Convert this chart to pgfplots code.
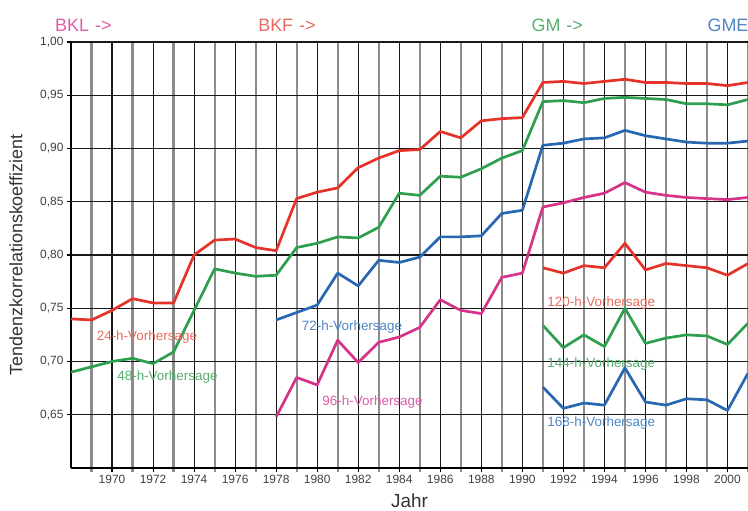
\documentclass[border=0pt]{standalone}
\usepackage{fontspec}
\setmainfont{Liberation Sans}
\usepackage{pgfplots}
\pgfplotsset{compat=1.18}

\definecolor{cRed}{HTML}{E5332A}
\definecolor{cGreen}{HTML}{2E9E4F}
\definecolor{cBlue}{HTML}{2867B2}
\definecolor{cPink}{HTML}{D6338A}
\definecolor{tRed}{HTML}{E86A5E}
\definecolor{tGreen}{HTML}{55B06E}
\definecolor{tBlue}{HTML}{4F86C6}
\definecolor{tPink}{HTML}{DD5CA6}

\begin{document}
\begin{tikzpicture}
\begin{axis}[
  scale only axis,
  width=677bp, height=426bp,
  xmin=1968, xmax=2001,
  ymin=0.60, ymax=1.00,
  axis x line*=bottom,
  axis y line*=left,
  axis line style={black, line width=1.2bp},
  clip=false,
  xtick={1970,1972,...,2000},
  minor xtick={1969,1971,...,2001},
  ytick={0.65,0.70,0.75,0.80,0.85,0.90,0.95,1.00},
  grid=both,
  major grid style={black!90, line width=1.1bp},
  minor grid style={black!45, line width=2.2bp},
  tick align=outside,
  major tick length=4bp,
  minor tick length=4bp,
  every tick/.style={black, line width=1.1bp},
  minor tick style={black!45, line width=2.2bp},
  /pgf/number format/assume math mode=true,
  xticklabel={\pgfmathprintnumber[1000 sep={}, fixed]{\tick}},
  yticklabel style={/pgf/number format/.cd, fixed, fixed zerofill, precision=2, use comma},
  ticklabel style={font=\fontsize{12}{14}\selectfont, text=black!75},
  xlabel={Jahr},
  ylabel={Tendenzkorrelationskoeffizient},
  every axis x label/.style={at={(axis description cs:0.5,0)}, yshift=-33bp, anchor=center, font=\fontsize{19}{22}\selectfont, text=black!80},
  every axis y label/.style={at={(axis description cs:0,0.5)}, xshift=-55bp, rotate=90, anchor=center, font=\fontsize{18}{22}\selectfont, text=black!80},
  no markers,
  every axis plot/.append style={line width=2.7bp, line join=round},
]

% 24-h forecast
\addplot[cRed] coordinates {
 (1968,0.740) (1969,0.739) (1970,0.748) (1971,0.759) (1972,0.755) (1973,0.755)
 (1974,0.800) (1975,0.814) (1976,0.815) (1977,0.807) (1978,0.804) (1979,0.853)
 (1980,0.859) (1981,0.863) (1982,0.882) (1983,0.891) (1984,0.898) (1985,0.899)
 (1986,0.916) (1987,0.910) (1988,0.926) (1989,0.928) (1990,0.929) (1991,0.962)
 (1992,0.963) (1993,0.961) (1994,0.963) (1995,0.965) (1996,0.962) (1997,0.962)
 (1998,0.961) (1999,0.961) (2000,0.959) (2001,0.962)};

% 48-h forecast
\addplot[cGreen] coordinates {
 (1968,0.690) (1969,0.695) (1970,0.700) (1971,0.703) (1972,0.698) (1973,0.709)
 (1974,0.748) (1975,0.787) (1976,0.783) (1977,0.780) (1978,0.781) (1979,0.807)
 (1980,0.811) (1981,0.817) (1982,0.816) (1983,0.826) (1984,0.858) (1985,0.856)
 (1986,0.874) (1987,0.873) (1988,0.881) (1989,0.891) (1990,0.898) (1991,0.944)
 (1992,0.945) (1993,0.943) (1994,0.947) (1995,0.948) (1996,0.947) (1997,0.946)
 (1998,0.942) (1999,0.942) (2000,0.941) (2001,0.946)};

% 72-h forecast
\addplot[cBlue] coordinates {
 (1978,0.739) (1979,0.746) (1980,0.753) (1981,0.783) (1982,0.771) (1983,0.795)
 (1984,0.793) (1985,0.798) (1986,0.817) (1987,0.817) (1988,0.818) (1989,0.839)
 (1990,0.842) (1991,0.903) (1992,0.905) (1993,0.909) (1994,0.910) (1995,0.917)
 (1996,0.912) (1997,0.909) (1998,0.906) (1999,0.905) (2000,0.905) (2001,0.907)};

% 96-h forecast
\addplot[cPink] coordinates {
 (1978,0.648) (1979,0.685) (1980,0.678) (1981,0.720) (1982,0.699) (1983,0.718)
 (1984,0.723) (1985,0.732) (1986,0.758) (1987,0.748) (1988,0.745) (1989,0.779)
 (1990,0.783) (1991,0.845) (1992,0.849) (1993,0.854) (1994,0.858) (1995,0.868)
 (1996,0.859) (1997,0.856) (1998,0.854) (1999,0.853) (2000,0.852) (2001,0.854)};

% 120-h forecast
\addplot[cRed] coordinates {
 (1991,0.788) (1992,0.783) (1993,0.790) (1994,0.788) (1995,0.811) (1996,0.786)
 (1997,0.792) (1998,0.790) (1999,0.788) (2000,0.781) (2001,0.792)};

% 144-h forecast
\addplot[cGreen] coordinates {
 (1991,0.734) (1992,0.713) (1993,0.725) (1994,0.714) (1995,0.750) (1996,0.717)
 (1997,0.722) (1998,0.725) (1999,0.724) (2000,0.716) (2001,0.736)};

% 168-h forecast
\addplot[cBlue] coordinates {
 (1991,0.676) (1992,0.656) (1993,0.661) (1994,0.659) (1995,0.694) (1996,0.662)
 (1997,0.659) (1998,0.665) (1999,0.664) (2000,0.654) (2001,0.689)};

% series labels
\begin{scope}[every node/.style={font=\fontsize{13.5}{16}\selectfont, inner sep=0pt}]
\node[text=tRed]   at (axis cs:1971.7,0.723) {24-h-Vorhersage};
\node[text=tGreen] at (axis cs:1972.7,0.685) {48-h-Vorhersage};
\node[text=tBlue]  at (axis cs:1981.7,0.732) {72-h-Vorhersage};
\node[text=tPink]  at (axis cs:1982.7,0.662) {96-h-Vorhersage};
\node[text=tRed]   at (axis cs:1993.85,0.755) {120-h-Vorhersage};
\node[text=tGreen] at (axis cs:1993.85,0.698) {144-h-Vorhersage};
\node[text=tBlue]  at (axis cs:1993.85,0.642) {168-h-Vorhersage};
\end{scope}

% model periods
\begin{scope}[every node/.style={font=\fontsize{18}{22}\selectfont, inner sep=0pt, anchor=west}]
\node[text=tPink]  at (axis cs:1967.22,1.016) {BKL\,\,->};
\node[text=tRed]   at (axis cs:1977.12,1.016) {BKF\,\,->};
\node[text=tGreen] at (axis cs:1990.44,1.016) {GM\,\,->};
\node[text=tBlue]  at (axis cs:1999.02,1.016) {GME};
\end{scope}
\end{axis}
\pgfresetboundingbox
\path ([shift={(-71bp,-43bp)}]current axis.south west) rectangle ([shift={(0bp,42bp)}]current axis.north east);
\end{tikzpicture}
\end{document}
